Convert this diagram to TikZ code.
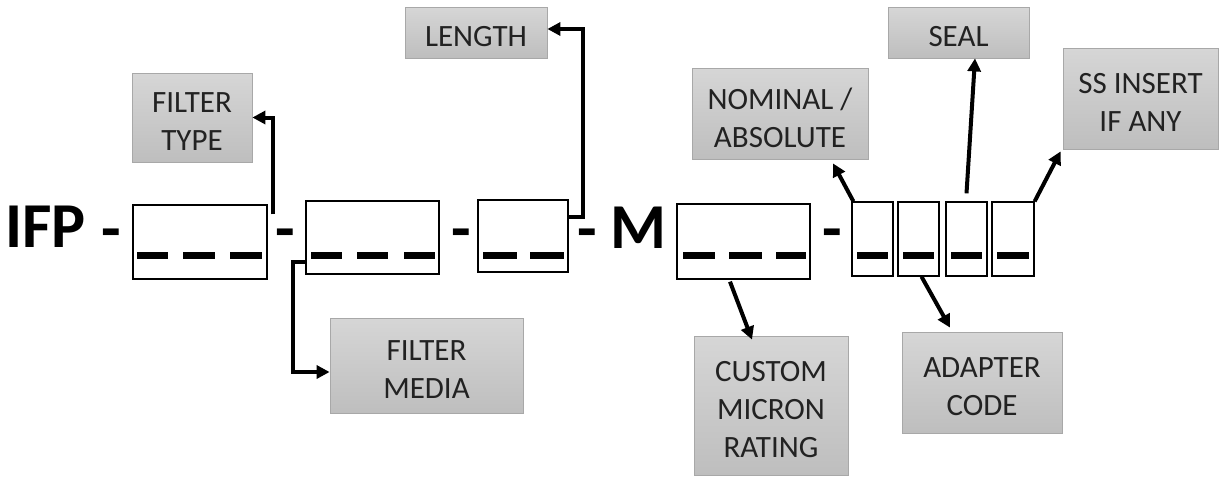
\documentclass[tikz,border=0pt]{standalone}
\usepackage{fontspec}
\setmainfont{Carlito}
\usetikzlibrary{arrows.meta}
\definecolor{gtop}{HTML}{D6D6D6}
\definecolor{gbot}{HTML}{BEBEBE}
\definecolor{gline}{HTML}{A8A8A8}
\definecolor{gtext}{HTML}{222222}
\begin{document}
\begin{tikzpicture}[x=1pt,y=-1pt,
  wbox/.style={draw=black, line width=1.3pt, fill=white, inner sep=0pt},
  gbox/.style={draw=gline, line width=0.8pt, top color=gtop, bottom color=gbot, inner sep=0pt},
  lbl/.style={text=gtext, font=\fontsize{31}{38}\selectfont, align=center, inner sep=0pt, yshift=-4pt},
  conn/.style={line width=4pt, -{Triangle[length=13pt,width=13pt]}},
  bar/.style={line width=7pt},
  big/.style={font=\fontsize{64}{64}\selectfont\bfseries, inner sep=0pt}
]
\useasboundingbox (0,0) rectangle (1220,477);

% big letters and hyphens
\node[big, anchor=base west] (ifp) at (5,247) {IFP};
\node[big, anchor=base west] (m) at (610,248) {M};
\node[big, anchor=base] (h1) at (111.5,250) {-};
\node[big, anchor=base] (h2) at (285.5,250) {-};
\node[big, anchor=base] (h3) at (461,250) {-};
\node[big, anchor=base] (h4) at (587.5,250) {-};
\node[big, anchor=base] (h5) at (832.5,250) {-};

% white code boxes
\node[wbox, minimum width=134pt, minimum height=74pt] (b1) at (200,242) {};
\node[wbox, minimum width=133pt, minimum height=73pt] (b2) at (372.5,237.5) {};
\node[wbox, minimum width=90pt, minimum height=72pt] (b3) at (523,236) {};
\node[wbox, minimum width=133pt, minimum height=75pt] (b4) at (743.5,241.5) {};
\node[wbox, minimum width=41pt, minimum height=74pt] (b5) at (872.5,239) {};
\node[wbox, minimum width=41pt, minimum height=74pt] (b6) at (918.5,239) {};
\node[wbox, minimum width=41pt, minimum height=74pt] (b7) at (966.5,239) {};
\node[wbox, minimum width=42pt, minimum height=74pt] (b8) at (1013,239) {};

% underscore bars
\draw[bar] (137,255) -- (168,255) (183,255) -- (215,255) (230,255) -- (262,255);
\draw[bar] (311,255) -- (342,255) (357,255) -- (388,255) (404,255) -- (435,255);
\draw[bar] (483,255) -- (517,255) (530,255) -- (564,255);
\draw[bar] (683,255) -- (715,255) (729,255) -- (762,255) (776,255) -- (806,255);
\draw[bar] (857,255) -- (888,255) (903,255) -- (934,255) (951,255) -- (982,255) (997,255) -- (1029,255);

% gray label boxes
\node[gbox, minimum width=120pt, minimum height=89pt, label={[lbl]center:FILTER\\TYPE}] (ft) at (192,117.5) {};
\node[gbox, minimum width=193pt, minimum height=95pt, label={[lbl]center:FILTER\\MEDIA}] (fm) at (426.5,365.5) {};
\node[gbox, minimum width=142pt, minimum height=51pt, label={[lbl]center:LENGTH}] (len) at (476,32.5) {};
\node[gbox, minimum width=176pt, minimum height=91pt, label={[lbl]center:NOMINAL /\\ABSOLUTE}] (nom) at (780,113.5) {};
\node[gbox, minimum width=141pt, minimum height=51pt, label={[lbl]center:SEAL}] (seal) at (958.5,32.5) {};
\node[gbox, minimum width=155pt, minimum height=101pt, label={[lbl]center:SS INSERT\\IF ANY}] (ss) at (1140.5,98.5) {};
\node[gbox, minimum width=154pt, minimum height=139pt, label={[lbl]center:CUSTOM\\MICRON\\RATING}] (cmr) at (771,405.5) {};
\node[gbox, minimum width=160pt, minimum height=101pt, label={[lbl]center:ADAPTER\\CODE}] (ac) at (982,382.5) {};

% connectors
\draw[conn] ([xshift=5pt,yshift=-10pt]b1.north east) |- (ft.east);
\draw[conn] ([yshift=-62pt]b2.north west) -- ++(-12pt,0) |- ([yshift=-6.5pt]fm.west);
\draw[conn] ([yshift=-18pt]b3.north east) -- ++(14pt,0) |- ([yshift=3.5pt]len.east);
\draw[conn] ([xshift=-13.5pt,yshift=-2pt]b4.south) -- ([xshift=-19pt,yshift=-4pt]cmr.north);
\draw[conn] ([xshift=3pt]b6.south) -- ([xshift=-32pt,yshift=4pt]ac.north);
\draw[conn] ([xshift=2pt]b5.north west) -- ([xshift=53pt,yshift=-4pt]nom.south);
\draw[conn] ([yshift=8pt]b7.north) -- ([xshift=16.5pt]seal.south);
\draw[conn] (b8.north east) -- ([xshift=-2pt,yshift=-2pt]ss.south west);
\end{tikzpicture}
\end{document}
